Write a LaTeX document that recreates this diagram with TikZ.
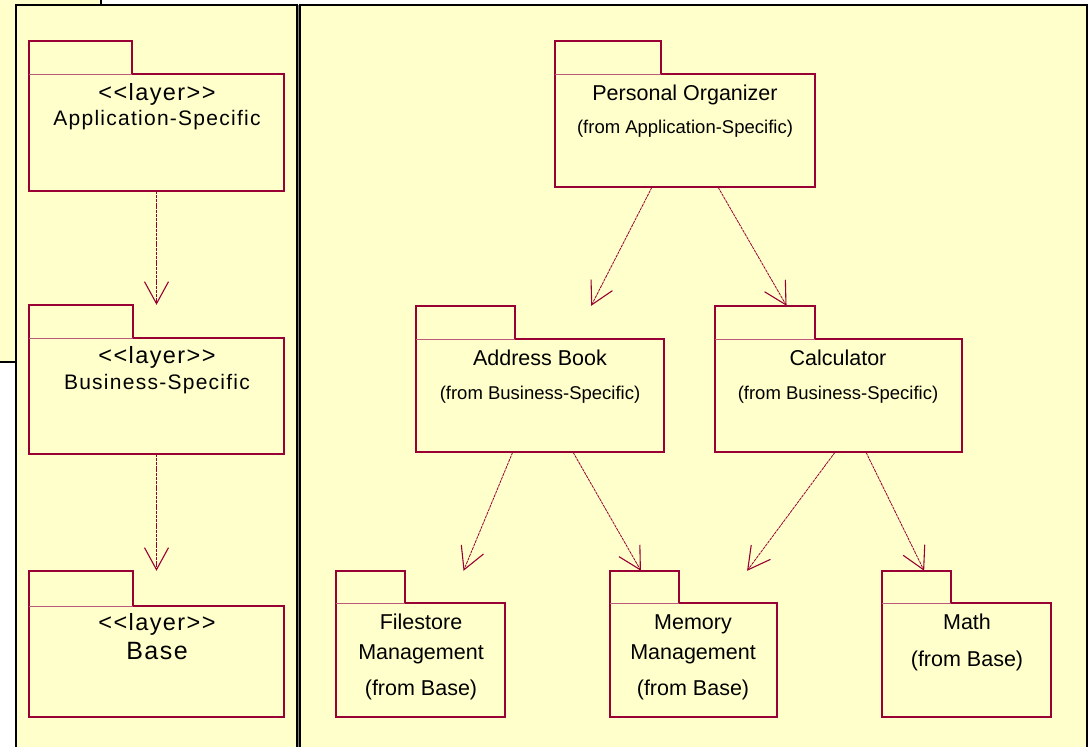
\documentclass[tikz,border=0pt]{standalone}
\usepackage{fontspec}
\setmainfont{Liberation Sans}
% spaced face for the stereotype lines, with no TeX ligature mapping
\newfontfamily\stereo[LetterSpace=6]{Liberation Sans}
\usetikzlibrary{arrows.meta,fit,calc}
\definecolor{paper}{HTML}{FFFFCC}
\definecolor{pkg}{HTML}{990033}

\tikzset{
  frame/.style={fill=paper, draw=black, line width=2.5pt},
  pkgline/.style={draw=pkg, line width=2pt, line join=miter},
  dep/.style={draw=pkg, line width=0.8pt, dash pattern=on 3pt off 0.8pt,
    -{Straight Barb[length=22pt,width=24pt,line width=1.1pt]}},
  lbl/.style={anchor=base, inner sep=0pt, text=black},
  big/.style={font=\fontsize{21.5}{21.5}\selectfont},
  small/.style={font=\fontsize{18.5}{18.5}\selectfont},
  layer/.style={font=\stereo\fontsize{21}{21}\selectfont},
  stereotype/.style={font=\stereo\fontsize{23.5}{23.5}\selectfont},
}

% UML package: name, left, tab top, tab right, body top, right, bottom
\newcommand\umlpackage[7]{%
  \draw[pkgline] (#2,#5) -- (#2,#3) -- (#4,#3) -- (#4,#5) -- (#6,#5)
    -- (#6,#7) -- (#2,#7) -- cycle;
  \draw[pkg!65, line width=0.8pt] (#2,#5) -- (#4,#5);
  \node[fit={(#2,#3) (#6,#7)}, inner sep=0pt] (#1) {};
}

\begin{document}
\begin{tikzpicture}[x=1pt, y=-1pt]
\useasboundingbox (0,0) rectangle (1088,747);
\fill[white] (0,0) rectangle (1088,747);

% frames
\draw[frame] (-10,-10) rectangle (101,362);
\fill[gray] (296,5) rectangle (301,760);
\draw[frame] (16,5) rectangle (297,760);
\draw[frame] (300,5) rectangle (1087,760);

% layers
\umlpackage{app}{29}{41}{132}{74}{284}{191}
\umlpackage{bus}{29}{305}{133}{338}{284}{454}
\umlpackage{base}{29}{571}{133}{606}{284}{717}

\node[lbl, stereotype] (app-st) at (157,100) {<<layer>>};
\node[lbl, layer] (app-nm) at (157,125) {Application-Specific};
\node[lbl, stereotype] (bus-st) at (157,363) {<<layer>>};
\node[lbl, layer] (bus-nm) at (157,389) {Business-Specific};
\node[lbl, stereotype] (base-st) at (157,630) {<<layer>>};
\node[lbl, font=\stereo\fontsize{25}{25}\selectfont] (base-nm) at (157,659) {Base};

\draw[dep] (app.south) -- (bus.north);
\draw[dep] (bus.south) -- (base.north);

% packages
\umlpackage{po}{555}{41}{661}{74}{815}{187}
\umlpackage{ab}{416}{306}{515}{339}{664}{452}
\umlpackage{calc}{715}{306}{815}{339}{962}{452}
\umlpackage{fs}{336}{571}{405}{603}{505}{717}
\umlpackage{mm}{610}{571}{679}{603}{777}{717}
\umlpackage{math}{882}{571}{951}{603}{1051}{717}

\node[lbl, big] (po-nm) at (685,100) {Personal Organizer};
\node[lbl, small] (po-fr) at (685,133) {(from Application-Specific)};
\node[lbl, big] (ab-nm) at (540,365) {Address Book};
\node[lbl, small] (ab-fr) at (540,399) {(from Business-Specific)};
\node[lbl, big] (calc-nm) at (838,365) {Calculator};
\node[lbl, small] (calc-fr) at (838,399) {(from Business-Specific)};
\node[lbl, big] (fs-a) at (421,629) {Filestore};
\node[lbl, big] (fs-b) at (421,659) {Management};
\node[lbl, big] (fs-c) at (421,695) {(from Base)};
\node[lbl, big] (mm-a) at (693,629) {Memory};
\node[lbl, big] (mm-b) at (693,659) {Management};
\node[lbl, big] (mm-c) at (693,695) {(from Base)};
\node[lbl, big] (math-a) at (967,629) {Math};
\node[lbl, big] (math-b) at (967,666) {(from Base)};

\draw[dep] ($(po.south west)!0.373!(po.south east)$) -- ($(ab.north west)!0.706!(ab.north east)$);
\draw[dep] ($(po.south west)!0.627!(po.south east)$) -- ($(calc.north west)!0.29!(calc.north east)$);
\draw[dep] ($(ab.south west)!0.39!(ab.south east)$) -- ($(fs.north west)!0.754!(fs.north east)$);
\draw[dep] ($(ab.south west)!0.633!(ab.south east)$) -- ($(mm.north west)!0.186!(mm.north east)$);
\draw[dep] ($(calc.south west)!0.486!(calc.south east)$) -- ($(mm.north west)!0.82!(mm.north east)$);
\draw[dep] ($(calc.south west)!0.611!(calc.south east)$) -- ($(math.north west)!0.25!(math.north east)$);
\end{tikzpicture}
\end{document}
